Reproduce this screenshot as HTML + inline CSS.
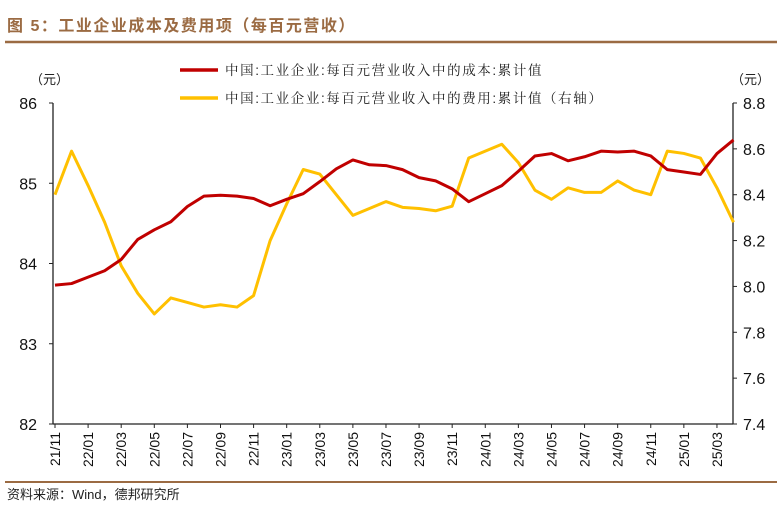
<!DOCTYPE html>
<html><head><meta charset="utf-8"><style>
body{margin:0;background:#fff;width:782px;height:519px;overflow:hidden;font-family:"Liberation Sans","Noto Sans CJK SC",sans-serif;}
</style></head><body>
<svg id="chart" width="782" height="519" xmlns="http://www.w3.org/2000/svg">
<text x="7" y="31" font-size="16" font-weight="bold" fill="#9b6b43" font-family="Liberation Sans,Noto Sans CJK SC,sans-serif" letter-spacing="1.5">图 5：工业企业成本及费用项（每百元营收）</text>
<line x1="5" y1="42" x2="777" y2="42" stroke="#9b6b43" stroke-width="2.5"/>
<text x="30" y="84" font-size="13" fill="#222" font-family="Noto Sans CJK SC,sans-serif">（元）</text>
<text x="731" y="84" font-size="13" fill="#222" font-family="Noto Sans CJK SC,sans-serif">（元）</text>
<g>
<line x1="180" y1="70" x2="218" y2="70" stroke="#c00000" stroke-width="3.5"/>
<text x="225" y="75" font-size="13.5" fill="#222" letter-spacing="1.6" font-family="Liberation Sans,Noto Serif CJK SC,sans-serif">中国:工业企业:每百元营业收入中的成本:累计值</text>
<line x1="180" y1="98" x2="218" y2="98" stroke="#ffc000" stroke-width="3.5"/>
<text x="225" y="103" font-size="13.5" fill="#222" letter-spacing="1.6" font-family="Liberation Sans,Noto Serif CJK SC,sans-serif">中国:工业企业:每百元营业收入中的费用:累计值（右轴）</text>
</g>
<g id="axes"></g>
<g id="series"></g>
<line x1="5" y1="482" x2="777" y2="482" stroke="#9b6b43" stroke-width="2"/>
<text x="7" y="499" font-size="13" fill="#222" font-family="Liberation Sans,Noto Sans CJK SC,sans-serif">资料来源：Wind，德邦研究所</text>
</svg>
<script>
const months = ["21/11","21/12","22/01","22/02","22/03","22/04","22/05","22/06","22/07","22/08","22/09","22/10","22/11","22/12","23/01","23/02","23/03","23/04","23/05","23/06","23/07","23/08","23/09","23/10","23/11","23/12","24/01","24/02","24/03","24/04","24/05","24/06","24/07","24/08","24/09","24/10","24/11","24/12","25/01","25/02","25/03","25/04"];
const costValues = [83.73,83.75,83.83,83.91,84.05,84.30,84.42,84.52,84.71,84.84,84.85,84.84,84.81,84.72,84.80,84.87,85.02,85.18,85.29,85.23,85.22,85.17,85.07,85.03,84.93,84.77,84.87,84.97,85.15,85.34,85.37,85.28,85.33,85.40,85.39,85.40,85.34,85.17,85.14,85.11,85.37,85.54];
const expenseValues = [8.40,8.59,8.44,8.28,8.09,7.97,7.88,7.95,7.93,7.91,7.92,7.91,7.96,8.20,8.36,8.51,8.49,8.40,8.31,8.34,8.37,8.345,8.34,8.33,8.35,8.56,8.59,8.62,8.54,8.42,8.38,8.43,8.41,8.41,8.46,8.42,8.40,8.59,8.58,8.56,8.43,8.28];
const leftTicks = [82,83,84,85,86];
const rightTicks = [7.4,7.6,7.8,8.0,8.2,8.4,8.6,8.8];
const xTickLabels = ["21/11","22/01","22/03","22/05","22/07","22/09","22/11","23/01","23/03","23/05","23/07","23/09","23/11","24/01","24/03","24/05","24/07","24/09","24/11","25/01","25/03"];

const NS="http://www.w3.org/2000/svg";
const L=53,R=733,T=103,B=424;
const x0=55,x1=733.5;
const xs=i=>x0+(x1-x0)*i/(months.length-1);
const yL=v=>B-(v-82)/(86-82)*(B-T);
const yR=v=>B-(v-7.4)/(8.8-7.4)*(B-T);
function mk(tag,attrs,parent){const e=document.createElementNS(NS,tag);for(const k in attrs)e.setAttribute(k,attrs[k]);parent.appendChild(e);return e;}
const ax=document.getElementById('axes');
let e;
e=mk('line',{x1:L,y1:T,x2:L,y2:B,stroke:'#222','stroke-width':1.3},ax);


e=mk('line',{x1:R,y1:T,x2:R,y2:B,stroke:'#222','stroke-width':1.3},ax);


e=mk('line',{x1:L,y1:B,x2:R,y2:B,stroke:'#222','stroke-width':1.3},ax);


leftTicks.forEach(v=>{
  mk('line',{x1:L-4,y1:yL(v),x2:L,y2:yL(v),stroke:'#222'},ax);
  const t=mk('text',{x:L-16,y:yL(v)+6,'font-size':16,'text-anchor':'end',fill:'#111'},ax);
  t.textContent=v;
  
  
});
rightTicks.forEach(v=>{
  mk('line',{x1:R,y1:yR(v),x2:R+4,y2:yR(v),stroke:'#222'},ax);
  const t=mk('text',{x:R+10,y:yR(v)+6,'font-size':16,fill:'#111'},ax);
  t.textContent=v.toFixed(1);
  
  
});
xTickLabels.forEach(lab=>{
  const i=months.indexOf(lab);const x=xs(i);
  mk('line',{x1:x,y1:B,x2:x,y2:B+4,stroke:'#222'},ax);
  const t=mk('text',{x:0,y:0,'font-size':14,'text-anchor':'end',fill:'#111',transform:`translate(${x+5},${B+8}) rotate(-90)`},ax);
  t.textContent=lab;
  
  
});
const sg=document.getElementById('series');
const p2=mk('polyline',{points:expenseValues.map((v,i)=>xs(i)+','+yR(v)).join(' '),fill:'none',stroke:'#ffc000','stroke-width':3,'stroke-linejoin':'round'},sg);


const p1=mk('polyline',{points:costValues.map((v,i)=>xs(i)+','+yL(v)).join(' '),fill:'none',stroke:'#c00000','stroke-width':3,'stroke-linejoin':'round'},sg);


</script>
</body></html>
